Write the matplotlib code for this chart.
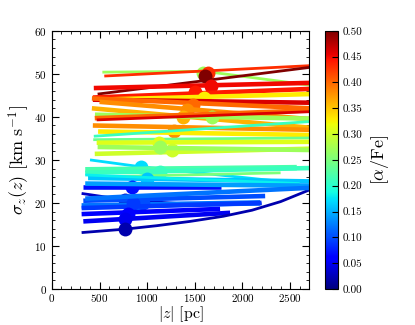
import matplotlib

matplotlib.use("Agg")
import matplotlib.pyplot as plt
import numpy as np
from matplotlib.ticker import MultipleLocator

plt.rcParams.update({
    "font.family": "cmr10",
    "mathtext.fontset": "cm",
    "axes.formatter.use_mathtext": True,
    "xtick.direction": "in",
    "ytick.direction": "in",
})

# one entry per mono-abundance population: [alpha/Fe], |z| nodes, sigma_z nodes, dot, width
afe = [0.27, 0.43, 0.50, 0.45, 0.44, 0.33, 0.46, 0.40, 0.38, 0.36,
       0.27, 0.40, 0.46, 0.38, 0.33, 0.24, 0.21, 0.31, 0.30, 0.27,
       0.17, 0.22, 0.21, 0.25, 0.16, 0.18, 0.07, 0.14, 0.03, 0.12,
       0.10, 0.09, 0.06, 0.05, 0.02, 0.12]
z_nodes = [
    [530, 1600, 2700], [550, 2700], [480, 2700], [440, 2700], [430, 2700],
    [460, 2700], [430, 2700], [420, 2700], [500, 2700], [420, 2700],
    [452, 2700], [450, 2700], [470, 2700], [430, 2700], [485, 2700],
    [434, 2700], [440, 2700], [470, 2700], [450, 2700], [480, 2700],
    [400, 932, 2400], [350, 2570], [350, 2700], [380, 2400], [380, 2700],
    [350, 2600], [327, 1770], [350, 2700], [312, 767, 1500, 2200], [312, 2185],
    [330, 2238], [312, 2200], [312, 1765], [330, 1870],
    [312, 767, 1100, 1450, 1800, 2100, 2400, 2700],
    [350, 2700],
]
sig_nodes = [
    [50.4, 50.6, 47.4], [49.5, 51.9], [45.3, 51.5], [46.7, 47.9], [44.5, 46.5],
    [44.0, 45.3], [44.0, 43.3], [44.3, 42.0], [43.5, 39.5], [42.0, 37.5],
    [40.5, 39.6], [39.7, 41.5], [39.3, 41.2], [38.0, 37.0], [36.6, 35.8],
    [34.7, 35.1], [35.5, 38.9], [34.0, 34.2], [31.4, 32.6], [33.0, 32.3],
    [30.0, 28.4, 25.0], [27.7, 28.2], [27.0, 28.1], [26.0, 27.0], [25.8, 25.0],
    [26.5, 24.5], [23.8, 23.8], [24.5, 24.0], [22.2, 20.7, 19.6, 19.8], [19.3, 20.0],
    [20.5, 21.6], [18.8, 20.0], [17.4, 18.6], [15.7, 17.7],
    [13.1, 13.9, 14.7, 15.7, 16.9, 18.3, 20.3, 23.0],
    [21.0, 23.5],
]
dot_z = [1590, 1640, 1608, 1667, 1502, 1597, None, 1481, 1420, 1380,
         1677, None, None, 1281, None, None, None, 1124, 1260, 1130,
         932, 1009, 1134, None, 1000, None, 837, None, 767, 900,
         955, 850, 800, 767, 767, None]
dot_sig = [50.3, 50.2, 49.5, 47.1, 45.9, 44.3, None, 42.8, 41.5, 40.0,
           39.9, None, None, 36.8, None, None, None, 33.9, 32.2, 33.0,
           28.4, 27.0, 27.3, None, 25.5, None, 23.6, None, 20.7, 19.8,
           20.0, 20.0, 17.4, 16.3, 13.9, None]
widths = [2, 2, 2, 3.3, 3.3, 3.3, 3.3, 3.3, 3.3, 3.3,
          3.3, 3.3, 2, 3.3, 3.3, 2, 2, 3.3, 3.3, 3.3,
          2, 4, 3.3, 2, 3.3, 2, 3.3, 3.3, 2, 4,
          3.3, 3.3, 3.3, 3.3, 2, 3.3]

cmap = plt.get_cmap("jet")
norm = matplotlib.colors.Normalize(vmin=0.0, vmax=0.5)

fig = plt.figure(figsize=(4.15, 3.25), dpi=100)
ax = fig.add_axes([0.125, 0.111, 0.62, 0.794])
cax = fig.add_axes([0.783, 0.111, 0.032, 0.794])

for i, a in enumerate(afe):
    c = cmap(norm(a))
    ax.plot(z_nodes[i], sig_nodes[i], color=c, lw=widths[i], zorder=2 + i * 0.01,
            solid_capstyle="butt")
    if dot_z[i] is not None:
        ax.plot(dot_z[i], dot_sig[i], "o", color=c, ms=10, mec="none",
                zorder=2 + i * 0.01 + 0.005)

ax.set_xlim(0, 2700)
ax.set_ylim(0, 60)
ax.xaxis.set_major_locator(MultipleLocator(500))
ax.xaxis.set_minor_locator(MultipleLocator(100))
ax.yaxis.set_major_locator(MultipleLocator(10))
ax.yaxis.set_minor_locator(MultipleLocator(2))
ax.tick_params(which="both", top=True, right=True, labelsize=8)
ax.tick_params(which="major", length=5)
ax.tick_params(which="minor", length=2.5)
ax.tick_params(axis="x", pad=2)
ax.set_xlabel(r"$|z|\ [\mathrm{pc}]$", fontsize=11.5, labelpad=0)
ax.set_ylabel(r"$\sigma_z(z)\ [\mathrm{km\ s}^{-1}]$", fontsize=13, labelpad=2)

sm = matplotlib.cm.ScalarMappable(norm=norm, cmap=cmap)
cb = fig.colorbar(sm, cax=cax, ticks=np.arange(0, 0.51, 0.05))
cb.ax.set_yticklabels(["%.2f" % t for t in np.arange(0, 0.51, 0.05)])
cb.ax.tick_params(labelsize=8, length=4, direction="in")
cb.set_label(r"$[\alpha/\mathrm{Fe}]$", fontsize=13, labelpad=4)

fig.savefig("out.png", dpi=100)
